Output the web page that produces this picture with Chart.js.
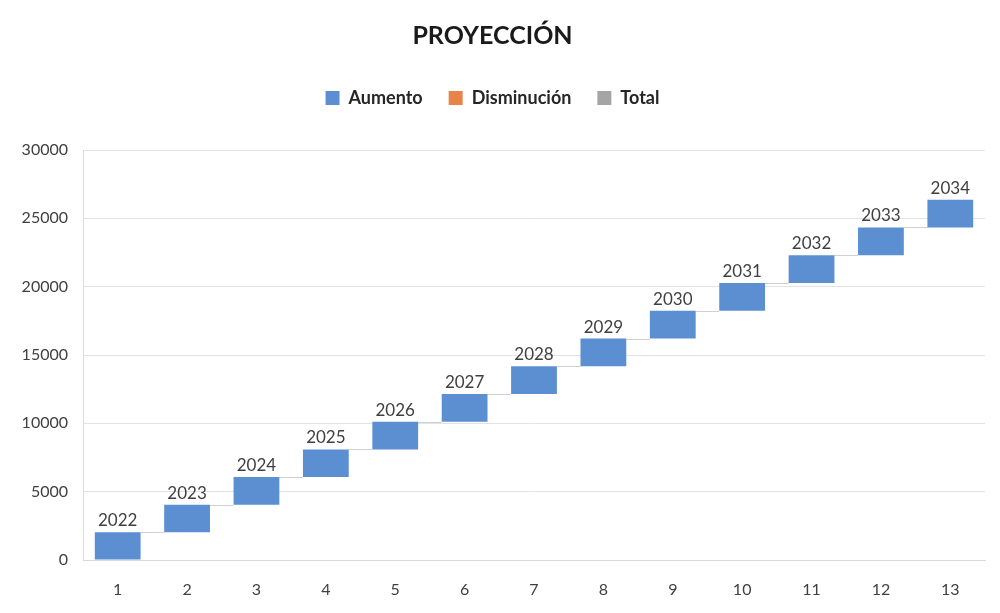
<!DOCTYPE html>
<html>
<head>
<meta charset="utf-8">
<script src="https://cdn.jsdelivr.net/npm/chart.js@4/dist/chart.umd.min.js"></script>
<style>
  html, body { margin: 0; padding: 0; background: #fff; }
  #wrap { width: 1000px; height: 613px; }
</style>
</head>
<body>
<div id="wrap"><canvas id="c" width="1000" height="613"></canvas></div>
<script>
// categories and increments (waterfall)
const categories = ['1', '2', '3', '4', '5', '6', '7', '8', '9', '10', '11', '12', '13'];
const increments = [2022, 2023, 2024, 2025, 2026, 2027, 2028, 2029, 2030, 2031, 2032, 2033, 2034];
const yTicks = [0, 5000, 10000, 15000, 20000, 25000, 30000];

// floating bars from running total
const ranges = [];
let run = 0;
increments.forEach(v => { ranges.push([run, run + v]); run += v; });

const FONT = 'Lato, "Open Sans", sans-serif';

// extra gap under the legend
const legendGap = {
    id: 'legendGap',
    beforeInit(chart) {
        const fit = chart.legend.fit;
        chart.legend.fit = function () {
            fit.bind(chart.legend)();
            this.height += 33;
        };
    }
};

const connectors = {
    id: 'connectors',
    beforeDatasetsDraw(chart) {
        const meta = chart.getDatasetMeta(0);
        const y = chart.scales.y;
        const ctx = chart.ctx;
        ctx.save();
        ctx.strokeStyle = '#d0d0d0';
        ctx.lineWidth = 1;
        for (let i = 0; i < meta.data.length - 1; i++) {
            const a = meta.data[i], b = meta.data[i + 1];
            const yy = Math.round(y.getPixelForValue(ranges[i][1])) + 0.5;
            ctx.beginPath();
            ctx.moveTo(a.x + a.width / 2, yy);
            ctx.lineTo(b.x - b.width / 2, yy);
            ctx.stroke();
        }
        ctx.restore();
    }
};

const valueLabels = {
    id: 'valueLabels',
    afterDatasetsDraw(chart) {
        const meta = chart.getDatasetMeta(0);
        const ctx = chart.ctx;
        ctx.save();
        ctx.fillStyle = '#404040';
        ctx.font = '17px ' + FONT;
        ctx.textAlign = 'center';
        ctx.textBaseline = 'bottom';
        meta.data.forEach((el, i) => {
            ctx.fillText(String(increments[i]), el.x, Math.min(el.y, el.base) - 3);
        });
        ctx.restore();
    }
};

new Chart(document.getElementById('c'), {
    type: 'bar',
    data: {
        labels: categories,
        datasets: [
            { label: 'Aumento', data: ranges, backgroundColor: '#5B8FD2', grouped: false, categoryPercentage: 1, barPercentage: 0.66 },
            { label: 'Disminución', data: categories.map(() => null), backgroundColor: '#E8834A', grouped: false },
            { label: 'Total', data: categories.map(() => null), backgroundColor: '#A5A5A5', grouped: false }
        ]
    },
    options: {
        responsive: false,
        animation: false,
        layout: { padding: { left: 0, right: 15, top: 6, bottom: 0 } },
        plugins: {
            title: {
                display: true, text: 'PROYECCIÓN', color: '#1a1a1a',
                font: { family: FONT, size: 25, weight: 'bold' },
                padding: { top: 15, bottom: 12 }
            },
            legend: {
                display: true, position: 'top',
                labels: {
                    boxWidth: 14, boxHeight: 14, color: '#262626', padding: 26,
                    font: { family: FONT, size: 18, weight: 'bold' }
                }
            },
            tooltip: { enabled: false }
        },
        scales: {
            x: {
                afterFit: s => { s.height = 53; },
                grid: { display: false, drawTicks: false },
                border: { display: true, color: '#d9d9d9' },
                ticks: { color: '#404040', font: { family: FONT, size: 16 }, padding: 20 }
            },
            y: {
                min: 0, max: 30000,
                afterFit: s => { s.width = 83; },
                afterBuildTicks: s => { s.ticks = yTicks.map(v => ({ value: v })); },
                grid: { color: '#e3e3e3', drawTicks: false },
                border: { display: true, color: '#d9d9d9' },
                ticks: { color: '#404040', font: { family: FONT, size: 16 }, padding: 15, callback: v => String(v) }
            }
        }
    },
    plugins: [legendGap, connectors, valueLabels]
});
</script>
</body>
</html>
